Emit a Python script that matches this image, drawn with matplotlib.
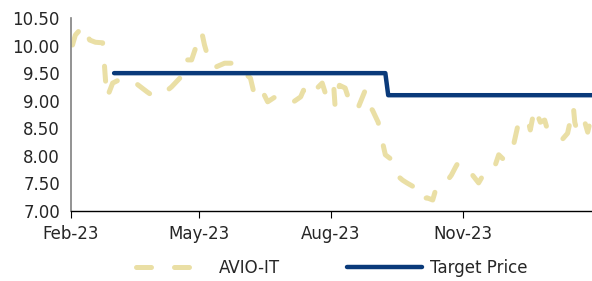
import pandas as pd
import matplotlib
matplotlib.use("Agg")
from matplotlib import pyplot as plt
import matplotlib.dates as mdates

# AVIO-IT share price
price_dates = ["2023-02-02", "2023-02-04", "2023-02-07", "2023-02-09", "2023-02-14", "2023-02-18",
               "2023-02-23", "2023-02-24", "2023-02-25", "2023-02-26", "2023-03-02", "2023-03-09",
               "2023-03-12", "2023-03-18", "2023-03-26", "2023-03-31", "2023-04-05", "2023-04-12",
               "2023-04-20", "2023-04-21", "2023-04-26", "2023-04-30", "2023-05-03", "2023-05-05",
               "2023-05-07", "2023-05-11", "2023-05-19", "2023-05-24", "2023-05-26", "2023-06-02",
               "2023-06-06", "2023-06-08", "2023-06-11", "2023-06-14", "2023-06-18", "2023-06-25",
               "2023-06-30", "2023-07-06", "2023-07-11", "2023-07-13", "2023-07-14", "2023-07-21",
               "2023-07-26", "2023-07-29", "2023-07-31", "2023-08-03", "2023-08-04", "2023-08-07",
               "2023-08-11", "2023-08-13", "2023-08-18", "2023-08-20", "2023-08-25", "2023-08-27",
               "2023-08-30", "2023-09-03", "2023-09-06", "2023-09-08", "2023-09-13", "2023-09-16",
               "2023-09-20", "2023-09-23", "2023-09-29", "2023-10-02", "2023-10-07", "2023-10-11",
               "2023-10-14", "2023-10-20", "2023-10-24", "2023-10-27", "2023-10-29", "2023-11-01",
               "2023-11-06", "2023-11-12", "2023-11-16", "2023-11-22", "2023-11-26", "2023-11-30",
               "2023-12-06", "2023-12-09", "2023-12-12", "2023-12-16", "2023-12-18", "2023-12-21",
               "2023-12-25", "2023-12-28", "2023-12-30", "2024-01-04", "2024-01-09", "2024-01-13",
               "2024-01-17", "2024-01-18", "2024-01-20", "2024-01-22", "2024-01-25", "2024-01-27",
               "2024-01-29"]
price = [10.01, 10.19, 10.28, 10.37, 10.10, 10.06,
         10.05, 9.74, 9.38, 9.05, 9.32, 9.41,
         9.34, 9.32, 9.16, 9.07, 9.10, 9.25,
         9.47, 9.74, 9.74, 10.05, 10.25, 10.01,
         9.83, 9.59, 9.68, 9.68, 9.56, 9.50,
         9.41, 9.19, 9.32, 9.19, 8.98, 9.10,
         9.01, 8.98, 9.07, 9.19, 9.07, 9.19,
         9.32, 9.07, 9.19, 9.28, 8.89, 9.28,
         9.23, 9.07, 8.83, 8.87, 9.19, 8.92,
         8.83, 8.61, 8.25, 8.02, 7.92, 7.65,
         7.56, 7.51, 7.42, 7.20, 7.24, 7.20,
         7.47, 7.51, 7.65, 7.80, 7.89, 7.80,
         7.71, 7.51, 7.69, 7.71, 8.02, 7.92,
         8.16, 8.51, 8.56, 8.69, 8.47, 8.87,
         8.61, 8.65, 8.47, 8.38, 8.29, 8.41,
         8.89, 8.61, 8.41, 8.51, 8.61, 8.43,
         8.65]

# target price
tp_dates = ["2023-03-03", "2023-09-08", "2023-09-10", "2024-01-30"]
tp = [9.50, 9.50, 9.10, 9.10]

y_ticks = [7.0, 7.5, 8.0, 8.5, 9.0, 9.5, 10.0, 10.5]
x_ticks = ["2023-02-01", "2023-05-01", "2023-08-01", "2023-11-01"]

plt.rcParams["font.family"] = ["DejaVu Sans"]

fig = plt.figure(figsize=(5.92, 2.81), dpi=100)
ax = fig.add_axes([0.12, 0.249, 0.88, 0.687])

ax.plot(pd.to_datetime(price_dates), price, color="#EADFA5", lw=3.6,
        dashes=(3, 4.6), dash_capstyle="round", solid_capstyle="round",
        label="AVIO-IT")
ax.plot(pd.to_datetime(tp_dates), tp, color="#0A3A7A", lw=3.2,
        solid_capstyle="round", label="Target Price")

ax.set_xlim(pd.Timestamp("2023-02-01"), pd.Timestamp("2024-01-30"))
ax.set_ylim(7.0, 10.5)
ax.set_yticks(y_ticks)
ax.set_yticklabels([f"{v:.2f}" for v in y_ticks])
ax.set_xticks(pd.to_datetime(x_ticks))
ax.xaxis.set_major_formatter(mdates.DateFormatter("%b-%y"))

for s in ["top", "right"]:
    ax.spines[s].set_visible(False)
ax.spines["left"].set_color("#808080")
ax.spines["left"].set_linewidth(1.2)
ax.spines["bottom"].set_color("black")
ax.spines["bottom"].set_linewidth(1.0)
ax.tick_params(axis="y", length=0, labelsize=12, colors="#262626", pad=8)
ax.tick_params(axis="x", length=5, labelsize=12, colors="black", labelcolor="#262626", pad=5)

ax.legend(loc="upper center", bbox_to_anchor=(0.5, -0.195), ncol=2, frameon=False,
          fontsize=12, handlelength=4.5, handletextpad=0.5, columnspacing=4.0,
          labelcolor="#262626", borderaxespad=0.2)

fig.savefig("out.png", dpi=100)
